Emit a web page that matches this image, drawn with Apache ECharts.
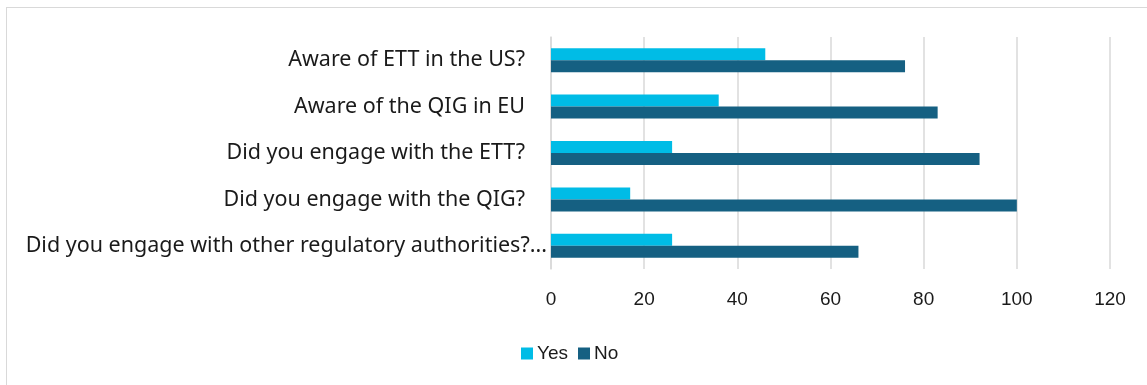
<!DOCTYPE html>
<html>
<head>
<meta charset="utf-8">
<script src="https://cdn.jsdelivr.net/npm/echarts@6/dist/echarts.min.js"></script>
<style>
  html, body { margin: 0; padding: 0; background: #fff; overflow: hidden; }
  #frame { position: absolute; left: 6px; top: 7px; width: 1160px; height: 400px;
           border: 1px solid #d9d9d9; box-sizing: border-box; }
  #chart { position: absolute; left: 0; top: 0; width: 1147px; height: 385px; }
</style>
</head>
<body>
<div id="frame"></div>
<div id="chart"></div>
<script>
// Survey questions, top to bottom
const categories = [
  'Aware of ETT in the US?',
  'Aware of the QIG in EU',
  'Did you engage with the ETT?',
  'Did you engage with the QIG?',
  'Did you engage with other regulatory authorities?...'
];
const yesValues = [46, 36, 26, 17, 26];
const noValues = [76, 83, 92, 100, 66];
const xTicks = [0, 20, 40, 60, 80, 100, 120];

const chart = echarts.init(document.getElementById('chart'), null, { renderer: 'canvas' });

// category axis is inverted so the first question sits at the top
chart.setOption({
  animation: false,
  grid: { left: 551, right: 37, top: 37, bottom: 116, containLabel: false },
  legend: {
    data: ['Yes', 'No'],
    left: 521, top: 344, padding: 0,
    itemWidth: 12, itemHeight: 12, itemGap: 10,
    icon: 'rect',
    textStyle: { fontFamily: 'Liberation Sans', fontSize: 19, color: '#1a1a1a', padding: [0, 0, 0, -1] }
  },
  xAxis: {
    type: 'value',
    min: xTicks[0], max: xTicks[xTicks.length - 1], interval: 20,
    axisLine: { show: false }, axisTick: { show: false },
    splitLine: { lineStyle: { color: '#d9d9d9', width: 1.5 } },
    axisLabel: { fontFamily: 'Liberation Sans', fontSize: 19, color: '#1a1a1a', margin: 21 }
  },
  yAxis: {
    type: 'category', data: categories, inverse: true,
    axisLine: { show: true, lineStyle: { color: '#d9d9d9', width: 1.5 } },
    axisTick: { show: false },
    axisLabel: {
      margin: 4,
      formatter: function (v, i) { return i === categories.length - 1 ? '{t|' + v + '}' : '{p|' + v + '}'; },
      rich: {
        p: { fontFamily: 'Noto Sans', fontSize: 21.5, color: '#1a1a1a', padding: [0, 22, 0, 0] },
        t: { fontFamily: 'Noto Sans', fontSize: 21.5, color: '#1a1a1a' }
      }
    }
  },
  series: [
    { name: 'Yes', type: 'bar', data: yesValues, barWidth: 12, barGap: '0%',
      itemStyle: { color: '#00bce6' } },
    { name: 'No', type: 'bar', data: noValues, barWidth: 12, barGap: '0%',
      itemStyle: { color: '#156082' } }
  ]
});
</script>
</body>
</html>
